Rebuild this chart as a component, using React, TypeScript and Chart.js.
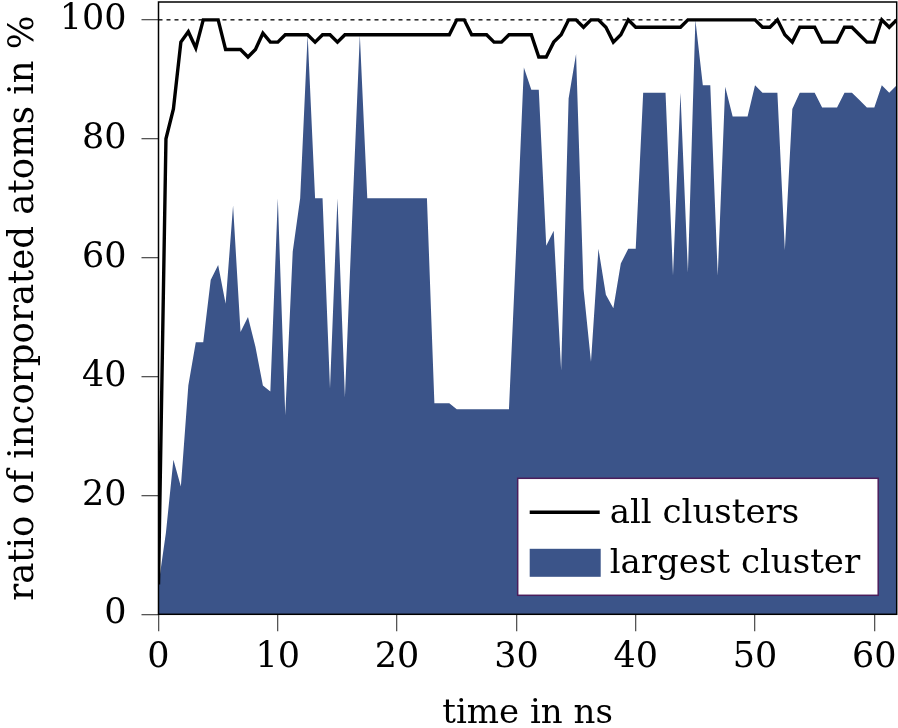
import React, { useEffect, useRef } from "react";
import { Chart, registerables } from "chart.js";

Chart.register(...registerables);

// time axis (ns)
const times = [
  0, 0.625, 1.25, 1.875, 2.5, 3.125, 3.75, 4.375, 5, 5.625,
  6.25, 6.875, 7.5, 8.125, 8.75, 9.375, 10, 10.625, 11.25, 11.875,
  12.5, 13.125, 13.75, 14.375, 15, 15.625, 16.25, 16.875, 17.5, 18.125,
  18.75, 19.375, 20, 20.625, 21.25, 21.875, 22.5, 23.125, 23.75, 24.375,
  25, 25.625, 26.25, 26.875, 27.5, 28.125, 28.75, 29.375, 30, 30.625,
  31.25, 31.875, 32.5, 33.125, 33.75, 34.375, 35, 35.625, 36.25, 36.875,
  37.5, 38.125, 38.75, 39.375, 40, 40.625, 41.25, 41.875, 42.5, 43.125,
  43.75, 44.375, 45, 45.625, 46.25, 46.875, 47.5, 48.125, 48.75, 49.375,
  50, 50.625, 51.25, 51.875, 52.5, 53.125, 53.75, 54.375, 55, 55.625,
  56.25, 56.875, 57.5, 58.125, 58.75, 59.375, 60, 60.625, 61.25, 61.875,
];

// all clusters (%)
const allClusters = [
  5, 80, 85, 96.25, 98, 95.25, 100, 100, 100, 95,
  95, 95, 93.75, 95, 97.75, 96.25, 96.25, 97.5, 97.5, 97.5,
  97.5, 96.25, 97.5, 97.5, 96.25, 97.5, 97.5, 97.5, 97.5, 97.5,
  97.5, 97.5, 97.5, 97.5, 97.5, 97.5, 97.5, 97.5, 97.5, 97.5,
  100, 100, 97.5, 97.5, 97.5, 96.25, 96.25, 97.5, 97.5, 97.5,
  97.5, 93.75, 93.75, 96.25, 97.5, 100, 100, 98.75, 100, 100,
  98.75, 96.25, 97.5, 100, 98.75, 98.75, 98.75, 98.75, 98.75, 98.75,
  98.75, 100, 100, 100, 100, 100, 100, 100, 100, 100,
  100, 98.75, 98.75, 100, 97.5, 96.25, 98.75, 98.75, 98.75, 96.25,
  96.25, 96.25, 98.75, 98.75, 97.5, 96.25, 96.25, 100, 98.75, 100,
];

// largest cluster (%)
const largestCluster = [
  5, 13.75, 26, 21.5, 38.5, 45.75, 45.75, 56.25, 58.75, 52.25,
  68.75, 47.5, 50, 45, 38.5, 37.5, 70, 33.5, 61, 70,
  97.5, 70, 70, 38, 70, 36.5, 67.5, 97.5, 70, 70,
  70, 70, 70, 70, 70, 70, 70, 35.5, 35.5, 35.5,
  34.5, 34.5, 34.5, 34.5, 34.5, 34.5, 34.5, 34.5, 62.5, 92,
  88.25, 88.25, 62, 64.5, 41, 86.75, 94.25, 54.75, 42.5, 61.5,
  53.75, 51.5, 59, 61.5, 61.5, 87.75, 87.75, 87.75, 87.75, 57,
  87.75, 57.5, 100, 89, 89, 57, 88.75, 83.75, 83.75, 83.75,
  89, 87.75, 87.75, 87.75, 61.25, 85, 87.75, 87.75, 87.75, 85.25,
  85.25, 85.25, 87.75, 87.75, 86.5, 85.25, 85.25, 89, 87.75, 89,
];

const xTicks = [0, 10, 20, 30, 40, 50, 60];
const yTicks = [0, 20, 40, 60, 80, 100];
const seriesLabels = ["all clusters", "largest cluster"];
const xTitle = "time in ns";
const yTitle = "ratio of incorporated atoms in %";
const referenceLevel = 100;
const yMax = 103;

const FONT = "'DejaVu Serif', serif";
const FONT_SIZE = 34;
const TICK_SIZE = 35;
const FILL = "#3b5489";
const LEGEND_BORDER = "#4b1d5b";

export default function App() {
  const ref = useRef<HTMLCanvasElement | null>(null);

  useEffect(() => {
    document.body.style.margin = "0";
    const canvas = ref.current;
    if (!canvas) return;

    const refLine = {
      id: "refLine",
      beforeDatasetsDraw(chart: any) {
        const { ctx, chartArea, scales } = chart;
        const y = scales.y.getPixelForValue(referenceLevel);
        ctx.save();
        ctx.beginPath();
        ctx.setLineDash([4, 4]);
        ctx.lineWidth = 1.3;
        ctx.strokeStyle = "#000";
        ctx.moveTo(chartArea.left, y);
        ctx.lineTo(chartArea.right, y);
        ctx.stroke();
        ctx.restore();
      },
    };

    const frame = {
      id: "frame",
      afterDatasetsDraw(chart: any) {
        const { ctx, chartArea } = chart;
        ctx.save();
        ctx.strokeStyle = "#000";
        ctx.lineWidth = 1.5;
        ctx.strokeRect(
          chartArea.left,
          chartArea.top,
          chartArea.right - chartArea.left,
          chartArea.bottom - chartArea.top
        );
        ctx.restore();
      },
    };

    const boxLegend = {
      id: "boxLegend",
      afterDraw(chart: any) {
        const { ctx, chartArea } = chart;
        const L = chartArea.right - 379;
        const R = chartArea.right - 18.5;
        const B = chartArea.bottom - 19;
        const T = B - 117;
        ctx.save();
        ctx.fillStyle = "#fff";
        ctx.fillRect(L, T, R - L, B - T);
        ctx.strokeStyle = LEGEND_BORDER;
        ctx.lineWidth = 1.5;
        ctx.strokeRect(L, T, R - L, B - T);
        // line sample
        ctx.beginPath();
        ctx.strokeStyle = "#000";
        ctx.lineWidth = 3.4;
        ctx.moveTo(L + 12, T + 34);
        ctx.lineTo(L + 82, T + 34);
        ctx.stroke();
        // area sample
        ctx.fillStyle = FILL;
        ctx.fillRect(L + 12, T + 70.5, 71, 28);
        // texts
        ctx.fillStyle = "#000";
        ctx.font = `${FONT_SIZE}px ${FONT}`;
        ctx.textAlign = "left";
        ctx.textBaseline = "middle";
        ctx.fillText(chart.data.datasets[0].label, L + 92, T + 36);
        ctx.fillText(chart.data.datasets[1].label, L + 92, T + 85.5);
        ctx.restore();
      },
    };

    const chart = new Chart(canvas, {
      type: "line",
      data: {
        datasets: [
          {
            label: seriesLabels[0],
            data: times.map((t, i) => ({ x: t, y: allClusters[i] })),
            borderColor: "#000",
            borderWidth: 3.4,
            borderJoinStyle: "miter",
            pointRadius: 0,
            fill: false,
            tension: 0,
          },
          {
            label: seriesLabels[1],
            data: times.map((t, i) => ({ x: t, y: largestCluster[i] })),
            borderColor: "rgba(0,0,0,0)",
            borderWidth: 0,
            backgroundColor: FILL,
            pointRadius: 0,
            fill: "origin",
            tension: 0,
          },
        ],
      },
      options: {
        responsive: false,
        animation: false,
        devicePixelRatio: 1,
        layout: { padding: { left: 0, right: 1.3, top: 2, bottom: 0 } },
        plugins: {
          legend: { display: false },
          tooltip: { enabled: false },
        },
        scales: {
          x: {
            type: "linear",
            min: 0,
            max: times[times.length - 1],
            afterBuildTicks: (s: any) => {
              s.ticks = xTicks.map((v) => ({ value: v }));
            },
            afterFit: (s: any) => {
              s.height = 113.7;
              s.paddingLeft = 0;
              s.paddingRight = 0;
            },
            ticks: {
              color: "#000",
              font: { family: FONT, size: TICK_SIZE },
              padding: 6,
              maxRotation: 0,
              autoSkip: false,
              includeBounds: false,
            },
            grid: {
              drawOnChartArea: false,
              drawTicks: true,
              tickLength: 17,
              color: "#555",
              lineWidth: 1.3,
            },
            border: { display: false },
            title: {
              display: true,
              text: xTitle,
              color: "#000",
              font: { family: FONT, size: FONT_SIZE, lineHeight: 0.84 },
              padding: { top: 0, bottom: 0 },
            },
          },
          y: {
            type: "linear",
            min: 0,
            max: yMax,
            afterBuildTicks: (s: any) => {
              s.ticks = yTicks.map((v) => ({ value: v }));
            },
            afterFit: (s: any) => {
              s.width = 158.5;
              s.paddingTop = 0;
              s.paddingBottom = 0;
            },
            ticks: {
              color: "#000",
              font: { family: FONT, size: TICK_SIZE },
              padding: 15,
              autoSkip: false,
              includeBounds: false,
            },
            grid: {
              drawOnChartArea: false,
              drawTicks: true,
              tickLength: 17,
              color: "#555",
              lineWidth: 1.3,
            },
            border: { display: false },
            title: {
              display: true,
              text: yTitle,
              color: "#000",
              font: { family: FONT, size: 35.5, lineHeight: 1 },
              padding: { top: 6, bottom: 0 },
            },
          },
        },
      },
      plugins: [refLine, frame, boxLegend],
    } as any);

    return () => {
      chart.destroy();
    };
  }, []);

  return (
    <canvas
      ref={ref}
      width={898}
      height={728}
      style={{ display: "block", position: "fixed", left: 0, top: 0, width: 898, height: 728 }}
    />
  );
}
